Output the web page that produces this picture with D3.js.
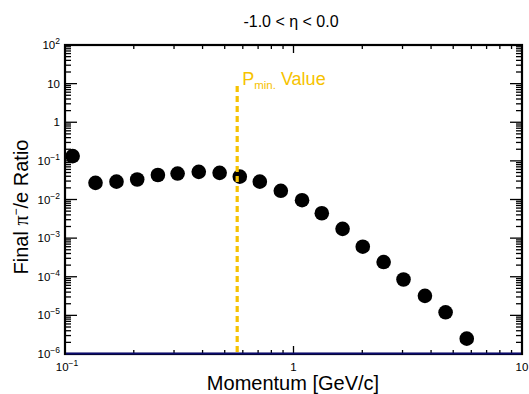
<!DOCTYPE html>
<html>
<head>
<meta charset="utf-8">
<script src="https://cdn.jsdelivr.net/npm/d3@7"></script>
<style>
  body { margin: 0; background: #fff; }
  svg { display: block; }
  text { font-family: "Liberation Sans", Arial, Helvetica, sans-serif; fill: #000; }
</style>
</head>
<body>
<svg id="chart" width="529" height="394"></svg>
<script>
// Momentum bin centres [GeV/c]
const momentum = [0.108, 0.136, 0.168, 0.207, 0.255, 0.311, 0.385, 0.475, 0.582, 0.712,
                  0.88, 1.09, 1.33, 1.64, 2.01, 2.48, 3.03, 3.76, 4.63, 5.73];
// Final pi-/e ratio per bin
const ratio = [0.133, 0.027, 0.029, 0.033, 0.043, 0.047, 0.052, 0.049, 0.039, 0.029,
               0.0168, 0.0096, 0.0044, 0.00174, 0.0006, 0.00024, 8.5e-5, 3.2e-5, 1.2e-5, 2.5e-6];
// Momentum threshold marked on the plot
const pMin = [0.567];
// Axis decade labels: [value, mantissa, exponent]
const xTickLabels = [[0.1, "10", "\u22121"], [1, "1", ""], [10, "10", ""]];
const yTickLabels = [[1e2, "10", "2"], [10, "10", ""], [1, "1", ""], [1e-1, "10", "\u22121"],
                     [1e-2, "10", "\u22122"], [1e-3, "10", "\u22123"], [1e-4, "10", "\u22124"],
                     [1e-5, "10", "\u22125"], [1e-6, "10", "\u22126"]];

const svg = d3.select("#chart");
const L = 65, R = 522, T = 45, B = 354;
const x = d3.scaleLog().domain([0.1, 10]).range([L, R]);
const y = d3.scaleLog().domain([1e-6, 1e2]).range([B, T]);
const gold = "#f6c200";

// minor + major tick values from the log scales
function logTicks(scale) {
  const [a, b] = scale.domain();
  const out = [];
  for (let e = Math.round(Math.log10(a)); e < Math.round(Math.log10(b)); e++) {
    for (let m = 1; m <= 9; m++) out.push({ v: m * Math.pow(10, e), major: m === 1 });
  }
  out.push({ v: b, major: true });
  return out;
}

const ticks = svg.append("g").attr("stroke", "#000").attr("stroke-width", 1.3);
logTicks(x).forEach(t => {
  const len = t.major ? 8 : 4;
  const px = x(t.v);
  ticks.append("line").attr("x1", px).attr("x2", px).attr("y1", B).attr("y2", B - len);
  ticks.append("line").attr("x1", px).attr("x2", px).attr("y1", T).attr("y2", T + len);
});
logTicks(y).forEach(t => {
  const len = t.major ? 12 : 6;
  const py = y(t.v);
  ticks.append("line").attr("y1", py).attr("y2", py).attr("x1", L).attr("x2", L + len);
  ticks.append("line").attr("y1", py).attr("y2", py).attr("x1", R).attr("x2", R - len);
});

// frame
svg.append("rect").attr("x", L).attr("y", T).attr("width", R - L).attr("height", B - T)
  .attr("fill", "none").attr("stroke", "#000").attr("stroke-width", 2.2);

// baseline reference line
svg.append("line").attr("x1", L + 1).attr("x2", R - 1).attr("y1", y(1e-6) - 0.5).attr("y2", y(1e-6) - 0.5)
  .attr("stroke", "#0a0a6e").attr("stroke-width", 2);

// data markers
svg.append("g").selectAll("circle").data(momentum).join("circle")
  .attr("cx", d => x(d)).attr("cy", (d, i) => y(ratio[i])).attr("r", 7.3).attr("fill", "#000");

// threshold line and label
svg.append("g").selectAll("line").data(pMin).join("line")
  .attr("x1", d => x(d)).attr("x2", d => x(d)).attr("y1", 86).attr("y2", B - 1)
  .attr("stroke", gold).attr("stroke-width", 3.2).attr("stroke-dasharray", "6,4");
const pl = svg.append("text").attr("x", x(pMin[0]) + 5).attr("y", 85)
  .attr("font-size", 18).style("fill", gold);
pl.append("tspan").text("P");
pl.append("tspan").attr("font-size", 11.5).attr("dy", 4).text("min.");
pl.append("tspan").attr("dy", -4).text(" Value");

// tick labels
function powLabel(g, px, py, anchor, base, exp) {
  const t = g.append("text").attr("x", px).attr("y", py).attr("text-anchor", anchor).attr("font-size", 11.5);
  t.append("tspan").text(base);
  if (exp) t.append("tspan").attr("font-size", 8.5).attr("dy", -5).text(exp);
  return t;
}
const xl = svg.append("g");
xTickLabels.forEach(([v, b, e]) => powLabel(xl, x(v) + (e ? 2 : 0), 371, "middle", b, e));
const yl = svg.append("g");
yTickLabels.forEach(([v, b, e]) => powLabel(yl, 60, y(v) + 4, "end", b, e));

// title
svg.append("text").attr("x", 291).attr("y", 27).attr("text-anchor", "middle").attr("font-size", 16)
  .text("-1.0 < \u03b7 < 0.0");

// axis titles
svg.append("text").attr("x", 293).attr("y", 390).attr("text-anchor", "middle").attr("font-size", 20)
  .text("Momentum [GeV/c]");
const yt = svg.append("text").attr("transform", "translate(28,207) rotate(-90)")
  .attr("text-anchor", "middle").attr("font-size", 20);
yt.append("tspan").text("Final ");
yt.append("tspan").style("font-family", "'Liberation Serif', 'DejaVu Serif', serif").text("\u03c0");
yt.append("tspan").attr("font-size", 12).attr("dy", -8).text("\u2212");
yt.append("tspan").attr("dy", 8).text("/e Ratio");
</script>
</body>
</html>
